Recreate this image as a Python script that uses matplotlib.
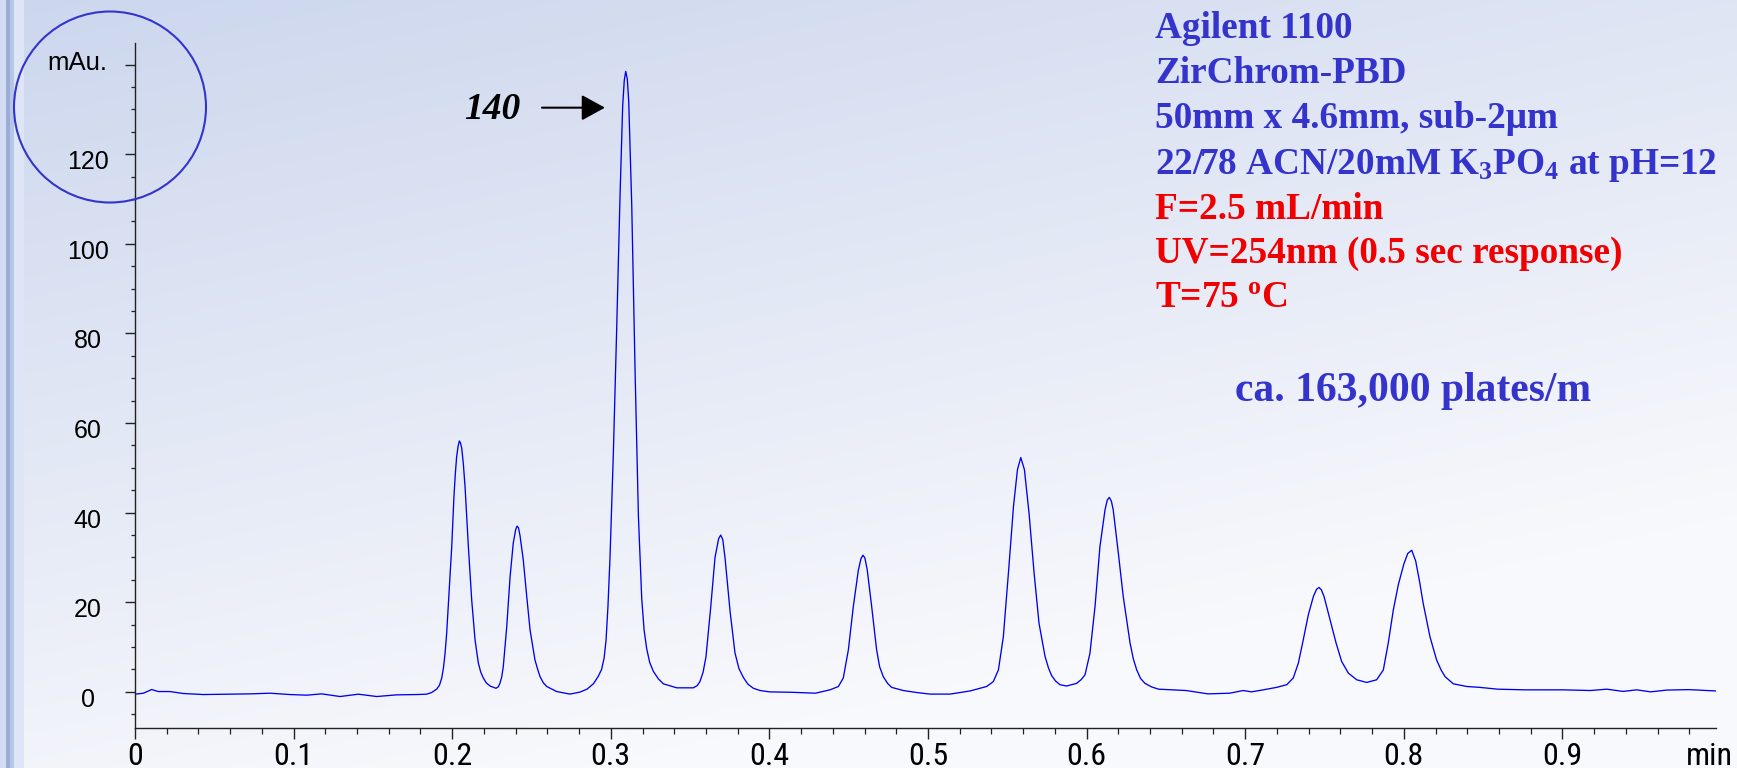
import numpy as np
import matplotlib
matplotlib.use("Agg")
import matplotlib.pyplot as plt
from matplotlib.patches import Ellipse
from matplotlib.transforms import ScaledTranslation
from matplotlib import font_manager

# ---------------- data ----------------
time_min = [
    0.0000, 0.0053, 0.0105, 0.0147, 0.0221, 0.0305, 0.0431, 0.0599, 0.0725, 0.0851,
    0.0977, 0.1083, 0.1177, 0.1293, 0.1408, 0.1524, 0.1650, 0.1776, 0.1839, 0.1870,
    0.1902, 0.1920, 0.1934, 0.1945, 0.1955, 0.1965, 0.1975, 0.1997, 0.2011, 0.2020,
    0.2028, 0.2037, 0.2045, 0.2052, 0.2060, 0.2070, 0.2081, 0.2102, 0.2123, 0.2144,
    0.2165, 0.2180, 0.2196, 0.2215, 0.2239, 0.2276, 0.2290, 0.2301, 0.2312, 0.2322,
    0.2344, 0.2365, 0.2385, 0.2400, 0.2409, 0.2418, 0.2427, 0.2448, 0.2470, 0.2491,
    0.2522, 0.2540, 0.2554, 0.2575, 0.2596, 0.2659, 0.2743, 0.2806, 0.2850, 0.2890,
    0.2920, 0.2942, 0.2958, 0.2970, 0.2982, 0.2995, 0.3016, 0.3037, 0.3058, 0.3075,
    0.3085, 0.3094, 0.3104, 0.3113, 0.3132, 0.3153, 0.3174, 0.3195, 0.3210, 0.3226,
    0.3245, 0.3268, 0.3300, 0.3331, 0.3416, 0.3520, 0.3545, 0.3562, 0.3582, 0.3600,
    0.3630, 0.3657, 0.3680, 0.3693, 0.3706, 0.3720, 0.3752, 0.3783, 0.3808, 0.3836,
    0.3865, 0.3899, 0.3941, 0.4000, 0.4145, 0.4290, 0.4382, 0.4435, 0.4466, 0.4498,
    0.4529, 0.4561, 0.4578, 0.4590, 0.4602, 0.4617, 0.4645, 0.4676, 0.4695, 0.4718,
    0.4745, 0.4771, 0.4844, 0.4929, 0.5013, 0.5139, 0.5265, 0.5370, 0.5412, 0.5444,
    0.5475, 0.5507, 0.5539, 0.5564, 0.5585, 0.5608, 0.5637, 0.5669, 0.5700, 0.5738,
    0.5760, 0.5780, 0.5805, 0.5832, 0.5874, 0.5937, 0.5965, 0.5990, 0.6021, 0.6053,
    0.6084, 0.6116, 0.6130, 0.6143, 0.6156, 0.6168, 0.6200, 0.6231, 0.6274, 0.6295,
    0.6316, 0.6340, 0.6368, 0.6410, 0.6454, 0.6627, 0.6765, 0.6902, 0.6988, 0.7040,
    0.7114, 0.7198, 0.7262, 0.7303, 0.7335, 0.7366, 0.7398, 0.7430, 0.7450, 0.7465,
    0.7480, 0.7497, 0.7535, 0.7573, 0.7608, 0.7650, 0.7703, 0.7766, 0.7829, 0.7871,
    0.7902, 0.7934, 0.7966, 0.8000, 0.8025, 0.8050, 0.8075, 0.8100, 0.8122, 0.8165,
    0.8207, 0.8235, 0.8260, 0.8312, 0.8396, 0.8480, 0.8591, 0.8763, 0.9004, 0.9177,
    0.9280, 0.9383, 0.9469, 0.9556, 0.9659, 0.9797, 0.9969,
]
absorbance_mau = [
    -0.52, -0.30, 0.52, 0.07, 0.07, -0.37, -0.60, -0.52, -0.45, -0.30,
    -0.60, -0.74, -0.45, -1.04, -0.52, -1.04, -0.67, -0.60, -0.52, -0.15,
    0.60, 1.5, 3.1, 5.4, 8.6, 13.0, 19.0, 32.4, 43.6, 48.8,
    52.5, 54.8, 56.0, 55.6, 54.4, 51.0, 45.8, 32.4, 20.5, 11.6,
    6.4, 4.4, 3.1, 2.0, 1.3, 0.8, 1.1, 1.9, 3.3, 5.6,
    14.6, 25.7, 33.2, 36.2, 37.0, 36.6, 35.0, 29.5, 21.3, 13.8,
    7.1, 4.9, 3.4, 2.0, 1.2, 0.07, -0.5, -0.05, 0.6, 1.8,
    3.4, 5.0, 7.6, 11.5, 19.0, 30.0, 53.1, 80.9, 110.5, 130.9,
    136.5, 138.5, 136.8, 131.8, 108.7, 71.7, 39.3, 20.8, 13.8, 9.7,
    6.6, 4.6, 2.9, 1.8, 0.9, 0.9, 1.4, 2.3, 4.4, 7.8,
    18.9, 30.0, 34.2, 35.0, 34.0, 30.0, 18.0, 8.7, 5.2, 3.2,
    1.7, 0.8, 0.3, 0.0, -0.1, -0.3, 0.45, 1.2, 3.1, 9.4,
    19.0, 27.2, 29.8, 30.5, 29.9, 27.2, 19.0, 9.4, 5.6, 3.4,
    1.9, 1.0, 0.3, -0.15, -0.5, -0.5, 0.2, 1.2, 2.3, 4.9,
    12.3, 26.5, 41.4, 49.6, 52.3, 49.6, 39.9, 26.5, 15.3, 7.9,
    5.3, 3.6, 2.4, 1.6, 1.3, 1.9, 2.7, 3.8, 8.6, 19.0,
    32.4, 40.6, 42.8, 43.4, 42.6, 40.6, 31.0, 21.3, 10.9, 7.3,
    4.9, 3.0, 1.9, 1.1, 0.6, 0.3, -0.45, -0.3, 0.3, 0.0,
    0.45, 1.0, 1.6, 3.1, 6.4, 11.6, 17.2, 21.3, 22.9, 23.3,
    22.8, 21.3, 16.1, 10.9, 6.8, 4.2, 2.7, 2.1, 2.7, 4.9,
    10.9, 18.3, 24.0, 28.5, 30.9, 31.6, 29.2, 24.5, 19.8, 12.3,
    7.1, 4.9, 3.4, 1.8, 1.2, 1.0, 0.6, 0.45, 0.45, 0.3,
    0.6, 0.1, 0.45, 0.0, 0.4, 0.5, 0.2,
]
x_major = [0, 0.1, 0.2, 0.3, 0.4, 0.5, 0.6, 0.7, 0.8, 0.9]
x_labels = ["0", "0.1", "0.2", "0.3", "0.4", "0.5", "0.6", "0.7", "0.8", "0.9"]
y_major = [0, 20, 40, 60, 80, 100, 120, 140]
y_labels = ["0", "20", "40", "60", "80", "100", "120", ""]
info_lines = [
    ("Agilent 1100", "#3434CC"),
    ("ZirChrom-PBD", "#3434CC"),
    ("50mm x 4.6mm, sub-2\u03bcm", "#3434CC"),
    (r"22/78 ACN/20mM K$_{3}$PO$_{4}$ at pH=12", "#3434CC"),
    ("F=2.5 mL/min", "#F00000"),
    ("UV=254nm (0.5 sec response)", "#F00000"),
    (r"T=75 $^{\mathrm{o}}$C", "#F00000"),
]
plates_text = "ca. 163,000 plates/m"
peak_label = "140"
peak_label_pos = (0.2254, 129.9)
arrow_from = (0.2566, 130.4)
arrow_to = (0.2963, 130.4)

# ---------------- fonts ----------------
names = {f.name for f in font_manager.fontManager.ttflist}
narrow = None
for cand in ["Liberation Sans Narrow", "Arial Narrow", "Roboto Condensed",
             "Open Sans Condensed", "DejaVu Sans Condensed", "Noto Sans Condensed"]:
    if cand in names:
        narrow = cand
        break
x_family = ([narrow] if narrow else []) + ["Liberation Sans", "DejaVu Sans"]

plt.rcParams["font.family"] = ["Liberation Sans", "DejaVu Sans"]
plt.rcParams["mathtext.fontset"] = "custom"
plt.rcParams["mathtext.rm"] = "Liberation Serif:bold"
plt.rcParams["mathtext.bf"] = "Liberation Serif:bold"
plt.rcParams["mathtext.it"] = "Liberation Serif:bold:italic"

W, H = 1737, 768
fig = plt.figure(figsize=(W / 100, H / 100), dpi=100)

# ---------------- slide background ----------------
yy, xx = np.mgrid[0:H, 0:W]
xf = xx / W
yf = yy / H
s = np.clip(0.42 * xf + 0.85 * yf, 0, 1)[..., None]
c_dark = np.array([0.80, 0.84, 0.93])
c_light = np.array([0.975, 0.978, 0.99])
img = c_dark * (1 - s) + c_light * s
img[:, 0:6] = [0.82, 0.86, 0.95]
img[:, 6:10] = [0.60, 0.68, 0.84]
img[:, 10:14] = [0.72, 0.78, 0.90]
img[:, 14:24] = [0.87, 0.90, 0.97]
bg = fig.add_axes([0, 0, 1, 1], zorder=-10)
bg.imshow(img, aspect="auto", extent=(0, 1, 0, 1), interpolation="bilinear")
bg.set_axis_off()

# ---------------- chart axes ----------------
ax_left, ax_right, ax_top, ax_bot = 135, 1716, 43, 727.7
ax = fig.add_axes([ax_left / W, 1 - ax_bot / H, (ax_right - ax_left) / W, (ax_bot - ax_top) / H])
ax.set_facecolor("none")
ax.plot(time_min, absorbance_mau, color="#0000EE", lw=0.95, solid_joinstyle="round")
ax.set_xlim(0, (ax_right - ax_left) / 1586)
ax.set_ylim(-8, -8 + (ax_bot - ax_top) / 4.48)

for sp in ["top", "right"]:
    ax.spines[sp].set_visible(False)
for sp in ["left", "bottom"]:
    ax.spines[sp].set_color("#222222")
    ax.spines[sp].set_linewidth(1.0)

ax.set_xticks(x_major)
ax.set_xticks(np.arange(0.02, 0.99, 0.02), minor=True)
ax.set_xticklabels(x_labels)
ax.set_yticks(y_major)
ax.set_yticks(np.arange(-5, 141, 5), minor=True)
ax.set_yticklabels(y_labels)

x_size = 23 if narrow else 21.5
ax.tick_params(axis="x", which="major", direction="out", length=8, width=1.0,
               color="#222222", pad=18.5, labelsize=x_size)
ax.tick_params(axis="x", which="minor", direction="out", length=4, width=0.9, color="#222222")
ax.tick_params(axis="y", which="major", direction="out", length=7, width=1.0,
               color="#222222", pad=27, labelsize=18)
ax.tick_params(axis="y", which="minor", direction="out", length=3, width=0.9, color="#222222")

for lab in ax.get_xticklabels():
    lab.set_fontfamily(x_family)
    lab.set_verticalalignment("baseline")
for lab in ax.get_yticklabels():
    lab.set_horizontalalignment("center")
    lab.set_verticalalignment("baseline")
    lab.set_transform(lab.get_transform() + ScaledTranslation(0, -0.15, fig.dpi_scale_trans))

# axis unit labels
fig.text(107 / W, 1 - 70 / H, "mAu.", ha="right", va="baseline", fontsize=18.5, color="black")
fig.text(1709 / W, 1 - 765 / H, "min", ha="center", va="baseline", fontsize=x_size,
         family=x_family, color="black")

# peak annotation
ax.text(peak_label_pos[0], peak_label_pos[1], peak_label, ha="center", va="center",
        fontsize=27, family="Liberation Serif", fontweight="bold", fontstyle="italic", color="black")
ax.annotate("", xy=arrow_to, xytext=arrow_from,
            arrowprops=dict(arrowstyle="-|>,head_length=0.6,head_width=0.33",
                            mutation_scale=24, lw=1.5, color="black", shrinkA=0, shrinkB=0))

# circle around the axis unit
circ = Ellipse((110 / W, 1 - 107 / H), 192 / W, 191 / H, transform=fig.transFigure,
               fill=False, edgecolor="#3434CC", lw=1.5, zorder=5)
fig.add_artist(circ)

# info block
baselines = [38, 83, 128, 174, 219, 263, 308]
for (txt, col), yb in zip(info_lines, baselines):
    fig.text(1155 / W, 1 - yb / H, txt, ha="left", va="baseline", fontsize=26.8,
             family="Liberation Serif", fontweight="bold", color=col)

fig.text(1235 / W, 1 - 401 / H, plates_text, ha="left", va="baseline", fontsize=30,
         family="Liberation Serif", fontweight="bold", color="#3434CC")

fig.savefig("out.png", dpi=100)
